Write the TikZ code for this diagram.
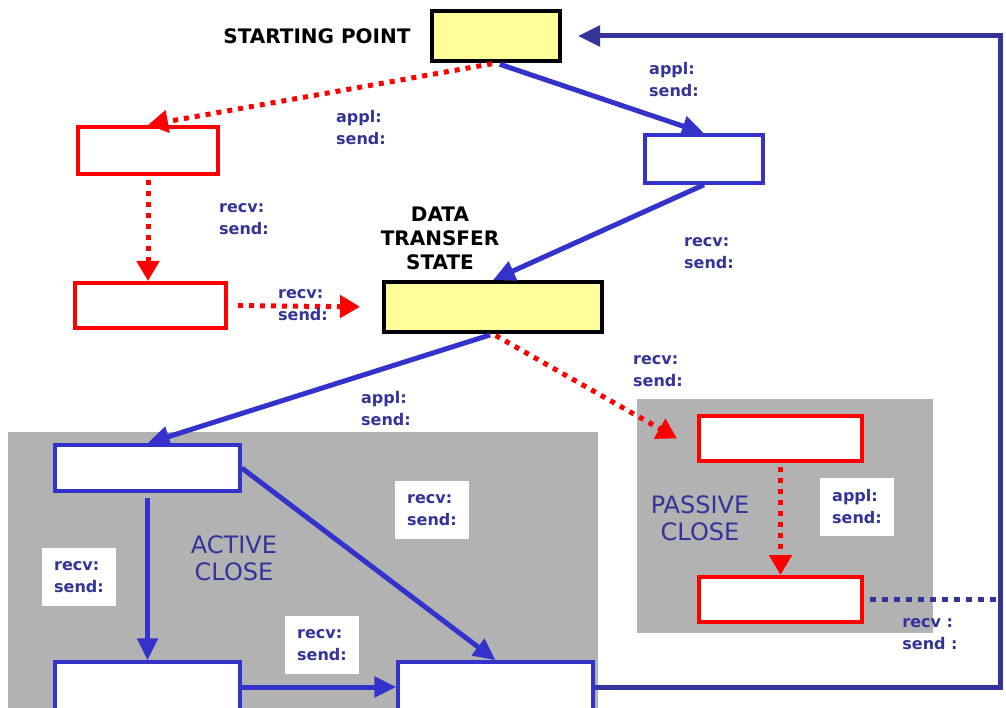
\documentclass[tikz,border=0pt]{standalone}
\usepackage{fontspec}
\setmainfont{DejaVu Sans}
\usepackage{xcolor}
\usepackage{tikz}
\usetikzlibrary{arrows.meta, positioning}

\definecolor{lineblue}{RGB}{51,51,204}
\definecolor{navy}{RGB}{51,51,153}
\definecolor{paleyellow}{RGB}{255,255,153}
\definecolor{closegray}{RGB}{178,178,178}

\begin{document}
\begin{tikzpicture}[x=1pt, y=-1pt,
    state/.style={draw, line width=4pt, inner sep=0pt},
    yellowstate/.style={state, draw=black, fill=paleyellow},
    bluestate/.style={state, draw=lineblue, fill=white, line width=3.5pt},
    redstate/.style={state, draw=red, fill=white},
    bluearrow/.style={draw=lineblue, line width=5pt, -{Triangle[length=22pt,width=20pt]}},
    redarrow/.style={draw=red, line width=5pt, dash pattern=on 5pt off 6pt, -{Triangle[length=20pt,width=22pt]}},
    lbl/.style={text=navy, font=\bfseries\fontsize{16}{22}\selectfont, align=left, inner sep=2pt},
    lblbox/.style={lbl, fill=white, minimum width=74, minimum height=58},
    title/.style={font=\bfseries\fontsize{20}{24}\selectfont, align=center},
    region/.style={text=navy, font=\fontsize{24}{27}\selectfont, align=center}]
  \path[use as bounding box, clip] (0,0) rectangle (1006,708);

  % shaded close regions
  \fill[closegray] (8,432) rectangle (598,712);
  \fill[closegray] (637,399) rectangle (933,633);

  % states
  \node[yellowstate, minimum width=128, minimum height=50] (start) at (496,36) {};
  \node[bluestate, minimum width=118, minimum height=48] (blueA) at (704,159) {};
  \node[redstate, minimum width=140, minimum height=47] (redA) at (148,150.5) {};
  \node[redstate, minimum width=151, minimum height=45] (redB) at (150.5,305.5) {};
  \node[yellowstate, minimum width=218, minimum height=50] (data) at (493,307) {};
  \node[bluestate, minimum width=185, minimum height=46] (actA) at (147.5,468) {};
  \node[bluestate, minimum width=185, minimum height=50] (actB) at (147.5,687) {};
  \node[bluestate, minimum width=195, minimum height=50] (actC) at (495.5,687) {};
  \node[redstate, minimum width=163, minimum height=45] (pasA) at (780.5,438.5) {};
  \node[redstate, minimum width=163, minimum height=45] (pasB) at (780.5,599.5) {};

  \coordinate (rt) at (1000,36);

  % transitions
  \draw[bluearrow, shorten <=4pt] (start.south) -- (blueA.north);
  \draw[redarrow, shorten <=4pt] (start.south) -- (redA.north);
  \draw[redarrow, shorten <=4pt] (redA.south) -- (redA.south |- redB.north);
  \draw[redarrow, shorten <=10pt, shorten >=22pt] (redB.east) -- (data.west);
  \draw[bluearrow] (blueA.south) -- (data.north);
  \draw[bluearrow, shorten <=3pt] (data.south) -- (actA.north);
  \draw[redarrow, shorten <=3pt] (data.south) -- ([xshift=-20pt]pasA.west);
  \draw[bluearrow, shorten <=5pt] (actA.south) -- (actB.north);
  \draw[bluearrow] (actA.east) -- (actC.north);
  \draw[bluearrow] (actB.east) -- (actC.west);
  \draw[redarrow, shorten <=4pt] (pasA.south) -- (pasB.north);
  \draw[navy, line width=5pt, -{Triangle[length=22pt,width=20pt]}, shorten >=16pt]
    (actC.east) -| (rt) -- (start.east);
  \draw[navy, line width=5pt, dash pattern=on 6pt off 6pt, shorten <=6pt]
    (pasB.east) -- (pasB.east -| rt);

  % titles
  \node[title] (stlbl) at (317,36) {STARTING POINT};
  \node[title] (dtlbl) at (440,238) {DATA\\TRANSFER\\STATE};
  \node[region] (actlbl) at (234,558) {ACTIVE\\CLOSE};
  \node[region] (paslbl) at (700,518) {PASSIVE\\CLOSE};

  % transition labels
  \node[lbl] (l1) at (674,80) {appl:\\send:};
  \node[lbl] (l2) at (361,128) {appl:\\send:};
  \node[lbl] (l3) at (244,219) {recv:\\send:};
  \node[lbl] (l4) at (303,305) {recv:\\send:};
  \node[lbl] (l5) at (709,253) {recv:\\send:};
  \node[lbl] (l6) at (386,409) {appl:\\send:};
  \node[lbl] (l7) at (658,371) {recv:\\send:};
  \node[lblbox] (l8) at (79,577) {recv:\\send:};
  \node[lblbox] (l9) at (432,510) {recv:\\send:};
  \node[lblbox] (l10) at (322,645) {recv:\\send:};
  \node[lblbox] (l11) at (857,507) {appl:\\send:};
  \node[lbl] (l12) at (930,634) {recv :\\send :};
\end{tikzpicture}
\end{document}
